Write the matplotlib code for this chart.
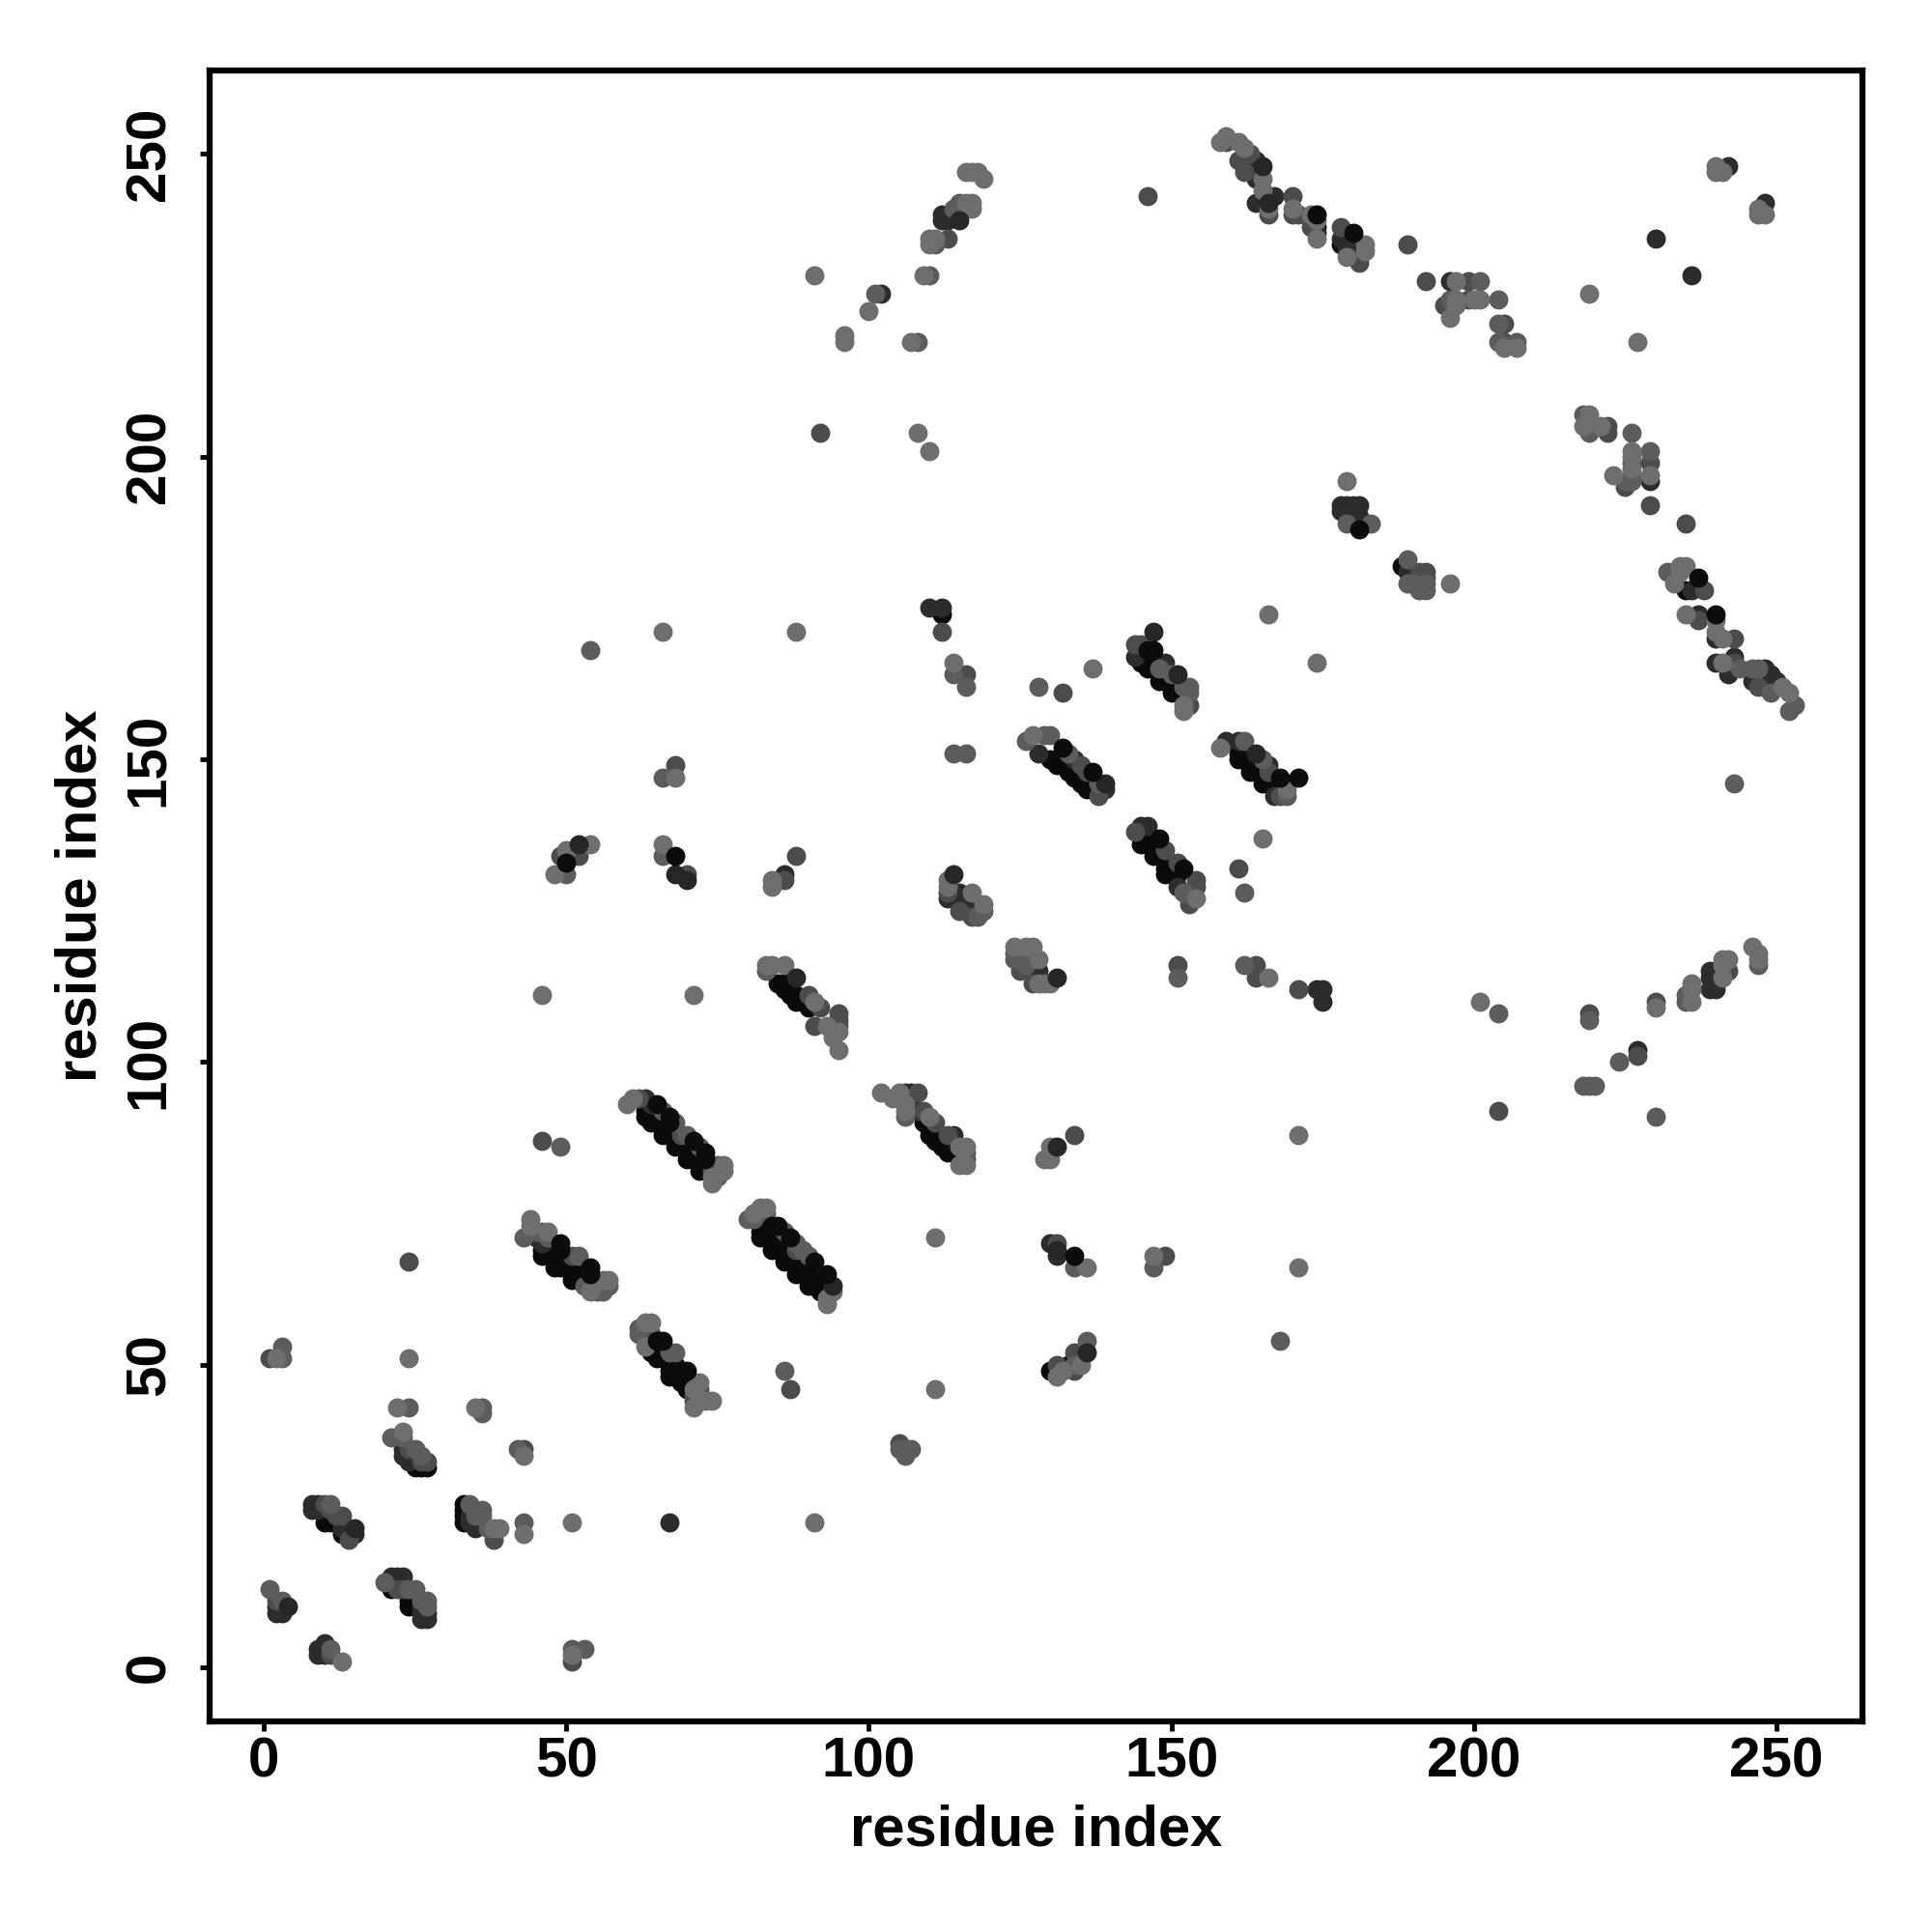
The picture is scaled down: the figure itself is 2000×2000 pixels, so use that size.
import matplotlib
matplotlib.use("Agg")
import matplotlib.pyplot as plt

# contact pairs (residue i, residue j), one list per grey level
base_black = [
    (25, 33), (26, 33), (27, 33), (25, 34), (10, 24), (11, 24), (10, 25), (11, 25), (13, 22), (14, 22),
    (33, 27), (33, 26), (33, 25), (33, 24), (21, 13), (24, 10), (24, 11), (25, 10), (25, 11),
    (46, 69), (46, 68), (47, 69), (47, 68), (48, 68), (48, 67), (48, 66), (49, 67), (49, 66), (50, 66),
    (51, 65), (51, 64), (52, 65), (53, 64), (53, 63), (50, 68), (49, 68), (50, 67),
    (51, 66), (52, 66), (53, 65), (54, 64),
    (63, 92), (63, 91), (64, 91), (64, 90), (65, 90), (66, 89), (66, 88), (67, 88),
    (68, 87), (68, 86), (69, 86), (70, 85), (70, 84), (71, 84), (72, 83), (72, 82),
    (65, 91), (66, 90), (67, 89), (68, 88), (69, 87), (70, 86), (71, 85), (72, 84), (73, 83),
    (82, 72), (82, 71), (83, 71), (84, 70), (84, 69), (85, 69), (86, 68), (86, 67),
    (87, 67), (88, 66), (88, 65), (89, 65), (90, 64), (90, 63), (91, 63),
    (83, 72), (84, 71), (85, 70), (86, 69), (87, 68), (88, 67), (89, 66), (90, 65), (91, 64), (92, 63), (92, 62),
    (64, 54), (64, 53), (64, 52), (65, 53), (65, 52), (65, 51), (66, 52), (66, 51), (67, 51),
    (67, 50), (67, 49), (67, 48), (68, 50), (68, 49), (68, 48), (69, 48), (69, 47), (70, 47), (70, 46),
    (70, 48), (71, 47),
    (109, 90), (110, 89), (110, 88), (111, 88), (111, 87), (112, 87), (112, 86), (113, 86), (113, 85), (114, 85), (109, 91),
    (85, 113), (86, 113), (86, 112), (87, 112), (87, 111), (88, 111), (88, 110), (89, 110), (90, 109),
    (131, 149), (130, 150), (131, 150), (132, 150), (132, 149), (133, 148), (134, 147), (134, 148),
    (135, 146), (135, 147), (136, 145), (136, 146), (137, 145), (137, 146),
    (146, 165), (147, 165), (148, 163), (148, 164), (149, 163), (150, 161), (150, 162),
    (151, 161), (145, 166), (146, 166),
    (161, 150), (161, 151), (162, 150), (163, 148), (163, 149), (164, 148), (165, 146),
    (165, 147), (166, 146), (167, 145),
    (145, 136), (146, 136), (147, 134), (147, 135), (148, 134), (149, 131), (149, 132),
    (150, 131), (150, 132), (151, 131), (149, 133),
    (130, 49), (133, 50), (180, 189), (180, 233), (188, 182), (235, 178), (112, 174), (174, 238),
    (178, 235), (179, 235),
]
base_char = [
    (23, 35), (23, 36), (24, 35), (24, 34), (8, 27), (8, 26), (9, 27), (9, 26), (15, 22), (13, 23),
    (35, 23), (34, 24), (34, 25), (67, 24), (2, 9), (3, 9), (2, 10), (3, 10),
    (21, 15), (22, 15), (23, 15), (21, 14), (22, 14), (26, 9), (27, 9), (26, 8), (27, 8), (26, 10),
    (10, 4), (9, 3), (9, 2), (10, 3), (10, 2), (45, 71), (46, 70), (63, 94), (64, 93),
    (106, 95), (107, 95), (108, 92), (114, 88), (110, 175), (112, 175), (128, 151), (134, 150),
    (139, 145), (144, 167), (149, 166), (159, 153), (161, 153), (166, 149), (167, 144), (145, 139), (146, 139),
    (151, 129), (113, 127), (115, 128), (116, 126), (128, 115), (174, 112), (175, 112), (175, 110),
    (164, 242), (166, 243), (167, 243), (174, 237), (178, 236), (179, 234), (181, 233), (112, 240), (112, 239), (113, 239),
    (178, 192), (178, 191), (179, 192), (180, 192), (181, 192), (181, 190), (102, 227), (196, 229),
    (229, 196), (233, 181), (236, 178), (237, 179), (237, 174), (240, 170), (240, 166), (243, 167), (242, 164), (242, 165),
    (248, 165), (249, 163), (250, 163), (242, 248), (248, 242), (230, 236), (236, 230),
    (227, 102), (239, 115), (239, 114), (239, 112), (240, 112), (130, 70), (131, 68), (86, 131),
    (189, 181), (190, 180), (191, 179), (190, 181),
    (162, 248), (163, 247), (164, 248), (164, 246), (163, 248), (162, 249), (164, 249),
    (179, 237), (179, 236), (180, 235), (180, 234),
    (246, 163), (247, 163), (248, 163), (248, 164), (248, 162), (249, 162), (250, 162), (247, 164), (249, 164),
]
grey_dark = [
    (24, 67), (1, 51), (43, 36), (24, 36), (27, 34), (26, 34), (10, 27), (11, 26), (13, 25), (12, 25), (14, 21),
    (38, 21), (2, 11), (22, 13), (23, 13), (11, 2), (51, 1), (62, 94), (74, 82), (69, 88), (88, 69),
    (46, 87), (87, 46), (105, 37), (116, 84), (108, 95), (109, 92), (111, 90), (113, 88), (51, 68),
    (63, 56), (64, 55), (72, 46), (71, 44), (71, 45), (68, 149), (52, 134), (49, 134), (70, 131), (88, 134), (86, 130),
    (90, 111), (92, 109), (91, 106), (95, 108), (95, 107), (95, 106), (112, 171), (116, 164), (132, 161), (135, 149),
    (138, 144), (144, 169), (145, 169), (153, 159), (168, 144), (144, 138), (149, 135), (154, 130), (154, 129),
    (153, 126), (161, 132), (113, 128), (115, 125), (117, 124), (125, 115), (127, 113), (151, 116), (164, 116), (164, 114),
    (171, 112), (159, 252), (161, 249), (163, 250), (162, 247), (166, 240), (170, 243), (170, 240), (171, 240), (173, 238),
    (178, 238), (181, 232), (189, 235), (192, 229), (199, 229), (195, 225), (199, 226), (205, 222), (205, 219),
    (146, 243), (113, 236), (92, 204), (222, 205), (222, 204), (226, 199), (225, 195), (229, 199), (229, 192), (235, 189),
    (237, 173), (243, 170), (243, 166), (247, 162), (238, 178), (219, 108), (230, 110), (227, 101), (242, 115), (204, 92),
    (134, 88), (131, 70), (149, 68), (134, 52), (134, 49), (131, 50),
    (192, 181), (191, 181), (192, 180), (151, 133), (166, 148), (136, 148),
]
grey_mid = [
    (3, 53), (3, 51), (24, 43), (36, 43), (36, 42), (21, 38), (23, 38), (25, 36), (26, 35), (42, 36),
    (11, 27), (34, 27), (35, 26), (36, 26), (36, 25), (37, 23), (35, 25), (43, 24), (1, 13), (3, 11),
    (20, 14), (24, 13), (25, 13), (26, 11), (27, 11), (27, 10), (11, 3), (51, 3), (53, 3),
    (43, 71), (46, 72), (45, 72), (47, 71), (52, 68), (53, 63), (55, 62), (56, 62), (57, 63),
    (66, 92), (75, 83), (75, 81), (75, 82), (70, 88), (80, 74), (81, 74), (82, 75), (83, 75), (86, 72),
    (67, 52), (68, 52), (62, 56), (62, 55), (86, 49), (106, 36), (107, 36), (106, 35), (105, 36), (106, 91), (116, 85),
    (49, 86), (54, 168), (66, 147), (50, 131), (66, 134), (83, 115), (114, 164), (114, 151), (116, 162), (128, 162),
    (126, 153), (129, 154), (130, 154), (138, 146), (116, 151), (153, 162), (153, 161), (162, 153), (169, 144),
    (152, 128), (162, 128), (119, 125), (118, 124), (124, 118), (124, 117), (126, 116), (151, 114), (162, 116),
    (179, 189), (183, 189), (189, 183), (201, 229), (196, 226), (204, 226), (204, 222), (204, 219), (207, 219),
    (114, 241), (115, 242), (111, 235), (110, 230), (101, 227), (108, 219), (218, 207), (219, 205), (219, 204), (226, 204),
    (226, 197), (225, 196), (226, 196), (229, 201), (232, 181), (244, 165), (246, 165), (247, 165), (249, 161),
    (253, 159), (252, 158), (243, 146), (219, 107), (224, 100), (219, 96), (220, 96), (218, 96), (204, 108), (247, 116),
    (235, 111), (235, 110), (134, 66), (147, 66), (168, 54), (136, 54), (134, 50), (230, 91),
    (189, 179), (190, 179), (191, 178), (192, 178), (192, 179),
    (68, 90), (72, 86), (88, 70), (89, 69), (90, 68), (148, 165), (150, 164), (152, 162), (165, 150), (133, 151),
]
grey_light = [
    (2, 51), (24, 51), (22, 43), (35, 43), (23, 39), (43, 35), (39, 23), (38, 23), (43, 22), (51, 24), (13, 1), (51, 2),
    (44, 74), (44, 73), (47, 72), (56, 64), (57, 64), (54, 62), (60, 93), (61, 94), (76, 83), (76, 82), (74, 81), (74, 80),
    (81, 75), (82, 76), (83, 76), (93, 60), (94, 62), (93, 61), (63, 57), (64, 57), (63, 53), (72, 47), (73, 44), (74, 44),
    (71, 43), (71, 46), (111, 46), (111, 71), (91, 24), (102, 95), (104, 94), (105, 95), (106, 93), (106, 92), (110, 91),
    (115, 86), (116, 86), (115, 83), (116, 83), (66, 171), (88, 171), (54, 136), (50, 135), (48, 131), (66, 136), (84, 130),
    (84, 129), (46, 111), (71, 111), (83, 116), (84, 116), (86, 116), (91, 110), (93, 106), (95, 105), (94, 104), (95, 102),
    (114, 166), (137, 165), (166, 174), (174, 166), (127, 154), (152, 159), (152, 158), (158, 152), (169, 145),
    (154, 127), (165, 137), (113, 130), (113, 129), (117, 128), (119, 126), (126, 119), (127, 119), (124, 119), (128, 117),
    (128, 113), (129, 113), (130, 113), (166, 114), (158, 252), (159, 253), (161, 252), (162, 251), (165, 246), (165, 244),
    (166, 241), (170, 241), (173, 240), (174, 239), (174, 236), (182, 235), (182, 234), (179, 233), (197, 229), (197, 226),
    (197, 225), (196, 223), (200, 226), (201, 226), (205, 218), (207, 218), (219, 227), (227, 219), (179, 196), (116, 247),
    (117, 247), (118, 247), (119, 246), (116, 242), (117, 242), (117, 241), (110, 236), (111, 236), (110, 235), (91, 230),
    (109, 230), (96, 220), (96, 219), (107, 219), (100, 224), (108, 204), (110, 201), (219, 207), (218, 205), (221, 205),
    (226, 201), (226, 200), (226, 198), (223, 197), (229, 197), (196, 179), (234, 182), (235, 182), (234, 181), (233, 179),
    (235, 174), (240, 173), (240, 171), (241, 170), (241, 166), (251, 162), (252, 161), (240, 248), (240, 247), (241, 247),
    (247, 241), (247, 240), (248, 240), (201, 110), (230, 109), (236, 113), (236, 112), (236, 110), (241, 114), (241, 117),
    (242, 117), (241, 116), (246, 119), (247, 118), (247, 117), (130, 86), (129, 84), (130, 84), (171, 88), (136, 66),
    (147, 68), (171, 66), (131, 48), (135, 50), (132, 49), (68, 147),
]
top_char = [
    (15, 23), (4, 10), (52, 136), (68, 131), (70, 130), (94, 63), (88, 114), (147, 171), (151, 164), (139, 146),
    (114, 131), (131, 114), (165, 248), (166, 242), (115, 239), (164, 151), (131, 86), (136, 52), (131, 69),
]
top_black = [
    (49, 70), (49, 69), (54, 66), (54, 65), (65, 93), (67, 91), (67, 90), (71, 87), (73, 85), (73, 84),
    (85, 73), (87, 71), (91, 67), (93, 65), (84, 73), (65, 54), (66, 54), (70, 49), (69, 49), (68, 134), (50, 133),
    (132, 152), (137, 148), (147, 168), (146, 168), (168, 147), (171, 147), (148, 137), (152, 132), (174, 240),
    (180, 237), (181, 188), (237, 180), (240, 174), (134, 68),
]

ticks = [0, 50, 100, 150, 200, 250]
axis_label = "residue index"

# drawn in this order, later layers sit on top
layers = [
    (base_black, "#0a0a0a"),
    (base_char, "#2c2c2c"),
    (grey_dark, "#4c4c4c"),
    (grey_mid, "#5c5c5c"),
    (grey_light, "#6e6e6e"),
    (top_char, "#262626"),
    (top_black, "#0c0c0c"),
]

plt.rcParams["font.family"] = ["Liberation Sans", "DejaVu Sans"]
plt.rcParams["font.weight"] = "bold"

fig = plt.figure(figsize=(20, 20), dpi=100)
ax = fig.add_axes([0.1085, 0.109, 0.8555, 0.8545])

for points, colour in layers:
    xs, ys = zip(*points)
    ax.scatter(xs, ys, s=205, c=colour, linewidths=0, clip_on=True)

ax.set_xlim(-8.94, 264.2)
ax.set_ylim(-8.94, 263.8)
ax.set_xticks(ticks)
ax.set_yticks(ticks)
ax.tick_params(axis="both", direction="out", length=7, width=3.5, labelsize=42)
ax.tick_params(axis="x", pad=4)
ax.tick_params(axis="y", pad=18)
for lab in ax.get_yticklabels():
    lab.set_rotation(90)
    lab.set_va("center")
for side in ax.spines.values():
    side.set_linewidth(4.5)

ax.set_xlabel(axis_label, fontsize=43, fontweight="bold", labelpad=12)
ax.set_ylabel(axis_label, fontsize=43, fontweight="bold", labelpad=12)

fig.savefig("out.png", dpi=100, facecolor="white")
